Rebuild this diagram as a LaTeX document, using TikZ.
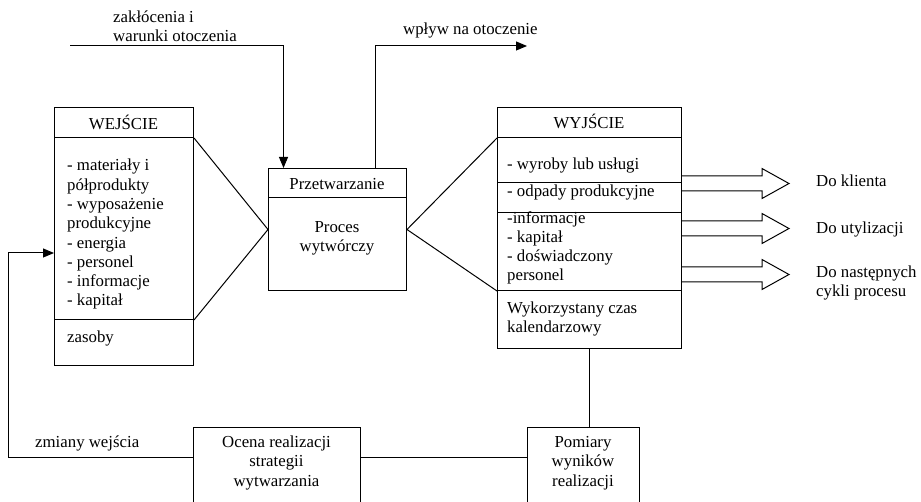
\documentclass[tikz,border=0pt]{standalone}
\usepackage{fontspec}
\setmainfont{Liberation Serif}
\usetikzlibrary{arrows.meta}
\begin{document}
\begin{tikzpicture}[x=1pt,y=-1pt,
  every node/.style={font=\fontsize{16.8}{19.3}\selectfont, inner sep=0pt},
  frame/.style={draw, line width=1pt, rectangle, anchor=north west},
  line/.style={line width=1pt},
  arr/.style={line width=1pt, -{Triangle[length=11pt,width=9pt]}},
  % multi-line nodes: the base anchor sits on the last line
  txt/.style={align=left, anchor=base west},
  ctxt/.style={align=center, anchor=base},
  fat/.pic={\draw[line width=1pt, line join=miter]
      (0,-7.5) -- (80,-7.5) -- (80,-15) -- (107,0) -- (80,15) -- (80,7.5) -- (0,7.5);},
]
\clip (0,0) rectangle (921,502);
\fill[white] (0,0) rectangle (921,502);

% --- input block ---
\node[frame, minimum width=139pt, minimum height=258pt] (wej) at (54,107) {};
\coordinate (wejT) at (wej.east |- 0,138);
\coordinate (wejB) at (wej.east |- 0,320);
\draw[line] (wej.west |- wejT) -- (wejT);
\draw[line] (wej.west |- wejB) -- (wejB);
\node[ctxt] (wejH) at (123.5,130) {WEJŚCIE};
\node[txt] (wejL) at (67,306) {- materiały i\\półprodukty\\- wyposażenie\\produkcyjne\\- energia\\- personel\\- informacje\\- kapitał};
\node[txt] (zas) at (67,343) {zasoby};

% --- processing block ---
\node[frame, minimum width=138pt, minimum height=122pt] (prz) at (268,168) {};
\draw[line] (prz.west |- 0,198) -- (prz.east |- 0,198);
\node[ctxt] (przH) at (337,190) {Przetwarzanie};
\node[ctxt] (przL) at (337,252) {Proces\\wytwórczy};

% --- output block ---
\node[frame, minimum width=184pt, minimum height=241pt] (wyj) at (497,107) {};
\coordinate (wyjT) at (wyj.west |- 0,138);
\coordinate (wyjB) at (wyj.west |- 0,291);
\draw[line] (wyjT) -- (wyj.east |- wyjT);
\draw[line] (wyj.west |- 0,183) -- (wyj.east |- 0,183);
\draw[line] (wyj.west |- 0,213) -- (wyj.east |- 0,213);
\draw[line] (wyjB) -- (wyj.east |- wyjB);
\node[ctxt] (wyjH) at (589,129) {WYJŚCIE};
\node[txt] (wyjA) at (507,170) {- wyroby lub usługi};
\node[txt] (wyjO) at (507,197) {- odpady produkcyjne};
\node[txt] (wyjI) at (507,281) {-informacje\\- kapitał\\- doświadczony\\personel};
\node[txt] (wyjC) at (507,333) {Wykorzystany czas\\kalendarzowy};

% --- funnels between blocks ---
\draw[line] (wejT) -- (prz.west) -- (wejB);
\draw[line] (wyjT) -- (prz.east) -- (wyjB);

% --- environment ---
\node[txt] (dist) at (113,42) {zakłócenia i\\warunki otoczenia};
\coordinate (distS) at (70,46);
\draw[arr] (distS) -| ([xshift=-54pt]prz.north);
\node[txt] (envL) at (403,35) {wpływ na otoczenie};
\coordinate (envE) at (527,46);
\draw[arr] ([xshift=38pt]prz.north) |- (envE);

% --- outgoing flows ---
\pic at (wyj.east |- 0,183.5) {fat};
\pic at (wyj.east |- 0,228.5) {fat};
\pic at (wyj.east |- 0,274.5) {fat};
\node[txt] (k1) at (816,187) {Do klienta};
\node[txt] (k2) at (816,234) {Do utylizacji};
\node[txt] (k3) at (816,297) {Do następnych\\cykli procesu};

% --- feedback loop ---
\node[frame, minimum width=167pt, minimum height=90pt] (ocena) at (193,427) {};
\node[frame, minimum width=112pt, minimum height=90pt] (pom) at (527,427) {};
\node[ctxt] (ocenaL) at (276.5,486) {Ocena realizacji\\strategii\\wytwarzania};
\node[ctxt] (pomL) at (583,486) {Pomiary\\wyników\\realizacji};
\draw[line] (wyj.south) -- (wyj.south |- pom.north);
\draw[line] (ocena.east |- 0,457) -- (pom.west |- 0,457);
\coordinate (fb) at (8,457);
\draw[arr] (ocena.west |- fb) -- (fb) |- (wej.west |- 0,253);
\node[txt] (zm) at (35,447) {zmiany wejścia};
\end{tikzpicture}
\end{document}
